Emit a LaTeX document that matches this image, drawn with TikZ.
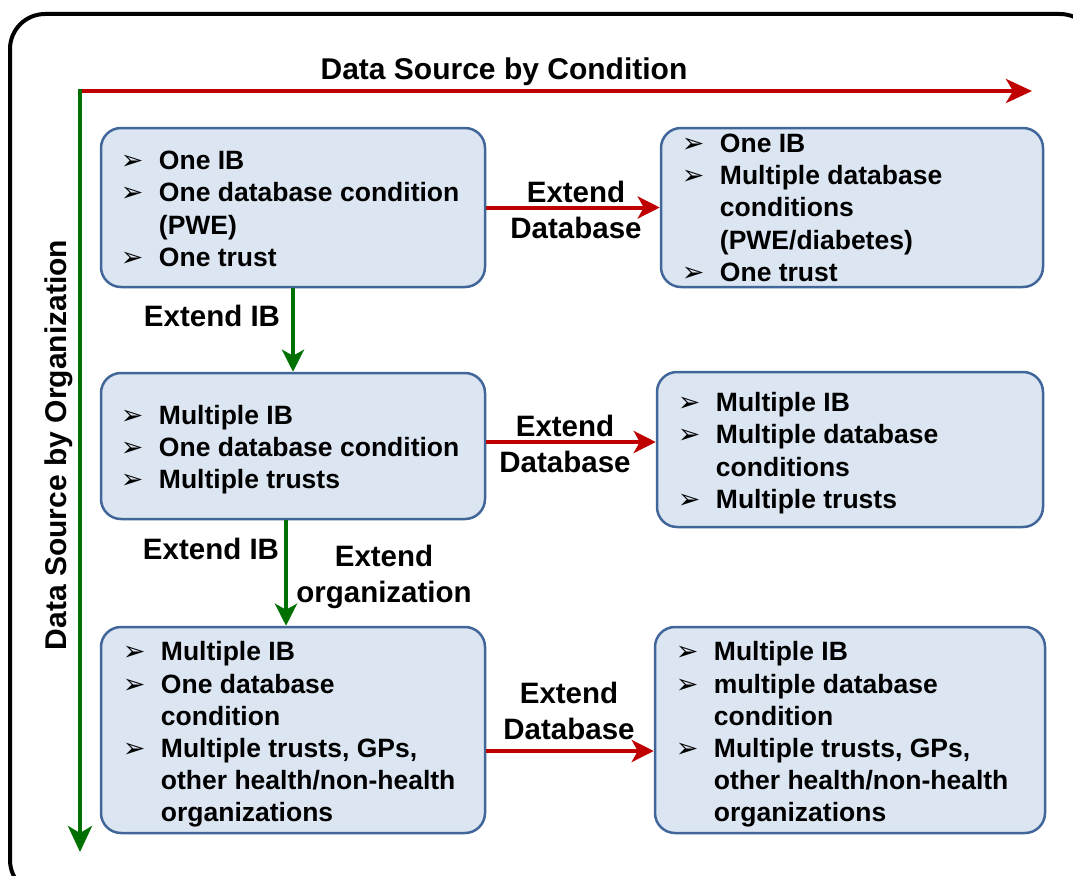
\documentclass[tikz,border=0pt]{standalone}
\usepackage{fontspec}
\setmainfont{Liberation Sans}
\newfontfamily\symf{DejaVu Sans}
\usetikzlibrary{arrows.meta}
\definecolor{boxblue}{HTML}{41679A}
\definecolor{boxfill}{HTML}{DCE6F2}
\definecolor{axred}{HTML}{C00000}
\definecolor{axgreen}{HTML}{007000}
\newcommand{\bul}{{\symf\fontsize{27}{20}\selectfont ➢}}
\newcommand{\itemtab}[1]{\begin{tabular}{@{}p{38pt}@{}l@{}}#1\end{tabular}}
\tikzset{
  infobox/.style={draw=boxblue, fill=boxfill, line width=2.5pt, rounded corners=20pt,
    inner sep=0pt},
  boxtext/.style={anchor=west, inner sep=0pt,
    font=\fontsize{26.5}{32.2}\selectfont\bfseries},
  lbl/.style={font=\fontsize{29.5}{36}\selectfont\bfseries, align=center, inner sep=0pt},
  redarr/.style={draw=axred, line width=4pt, -{Stealth[length=22pt,width=22pt,inset=6pt]}},
  greenarr/.style={draw=axgreen, line width=4pt, -{Stealth[length=22pt,width=22pt,inset=6pt]}},
}
\begin{document}
\begin{tikzpicture}[x=1pt,y=-1pt]
\clip (0,0) rectangle (1073,875);
\fill[white] (0,0) rectangle (1073,875);
\draw[line width=4pt, rounded corners=35pt] (10,14) rectangle (1095,895);

% axes
\coordinate (o) at (80,91);
\coordinate (xend) at (1032,91);
\coordinate (yend) at (80,852);
\draw[redarr, -{Stealth[length=26pt,width=24pt,inset=7pt]}] (o) -- (xend);
\draw[greenarr, -{Stealth[length=26pt,width=24pt,inset=7pt]}] ([yshift=2pt]o) -- (yend);
\node[lbl, font=\fontsize{30}{36}\selectfont\bfseries] (xlab) at (504,72) {Data Source by Condition};
\node[lbl, font=\fontsize{30}{36}\selectfont\bfseries, rotate=90] (ylab) at (59,445) {Data Source by Organization};

% boxes
\node[infobox, minimum width=384pt, minimum height=159pt] (b1) at (293,207.5) {};
\node[infobox, minimum width=382pt, minimum height=159pt] (b2) at (852,207.5) {};
\node[infobox, minimum width=384pt, minimum height=146pt] (b3) at (293,446) {};
\node[infobox, minimum width=386pt, minimum height=155pt] (b4) at (850,449.5) {};
\node[infobox, minimum width=384pt, minimum height=206pt] (b5) at (293,730) {};
\node[infobox, minimum width=390pt, minimum height=206pt] (b6) at (850,730) {};

% box texts
\node[boxtext] (t1) at ([xshift=21pt,yshift=-4pt]b1.west)
  {\itemtab{\bul & One IB\\ \bul & One database condition\\ & (PWE)\\ \bul & One trust}};
\node[boxtext] (t2) at ([xshift=22pt,yshift=-3pt]b2.west)
  {\itemtab{\bul & One IB\\ \bul & Multiple database\\ & conditions\\ & (PWE/diabetes)\\ \bul & One trust}};
\node[boxtext] (t3) at ([xshift=21pt,yshift=-4pt]b3.west)
  {\itemtab{\bul & Multiple IB\\ \bul & One database condition\\ \bul & Multiple trusts}};
\node[boxtext] (t4) at ([xshift=22pt,yshift=-4pt]b4.west)
  {\itemtab{\bul & Multiple IB\\ \bul & Multiple database\\ & conditions\\ \bul & Multiple trusts}};
\node[boxtext] (t5) at ([xshift=23pt,yshift=-5pt]b5.west)
  {\itemtab{\bul & Multiple IB\\ \bul & One database\\ & condition\\ \bul & Multiple trusts, GPs,\\ & other health/non-health\\ & organizations}};
\node[boxtext] (t6) at ([xshift=22pt,yshift=-5pt]b6.west)
  {\itemtab{\bul & Multiple IB\\ \bul & multiple database\\ & condition\\ \bul & Multiple trusts, GPs,\\ & other health/non-health\\ & organizations}};

% connectors
\draw[redarr] (b1.east) -- (b2.west);
\draw[redarr] ([yshift=4pt]b3.east) -- ([yshift=4pt]b3.east -| b4.west);
\draw[redarr] ([yshift=-21pt]b5.east) -- ([yshift=-21pt]b6.west);
\draw[greenarr] (b1.south) -- (b3.north);
\draw[greenarr] ([xshift=-7pt]b3.south) -- ([xshift=-7pt]b5.north);

% labels
\node[lbl] (l1) at (576,210) {Extend\\Database};
\node[lbl] (l2) at (565,444) {Extend\\Database};
\node[lbl] (l3) at (569,711) {Extend\\Database};
\node[lbl] (l4) at (212,316) {Extend IB};
\node[lbl] (l5) at (211,549) {Extend IB};
\node[lbl] (l6) at (384,577) {Extend\\organization};
\end{tikzpicture}
\end{document}
